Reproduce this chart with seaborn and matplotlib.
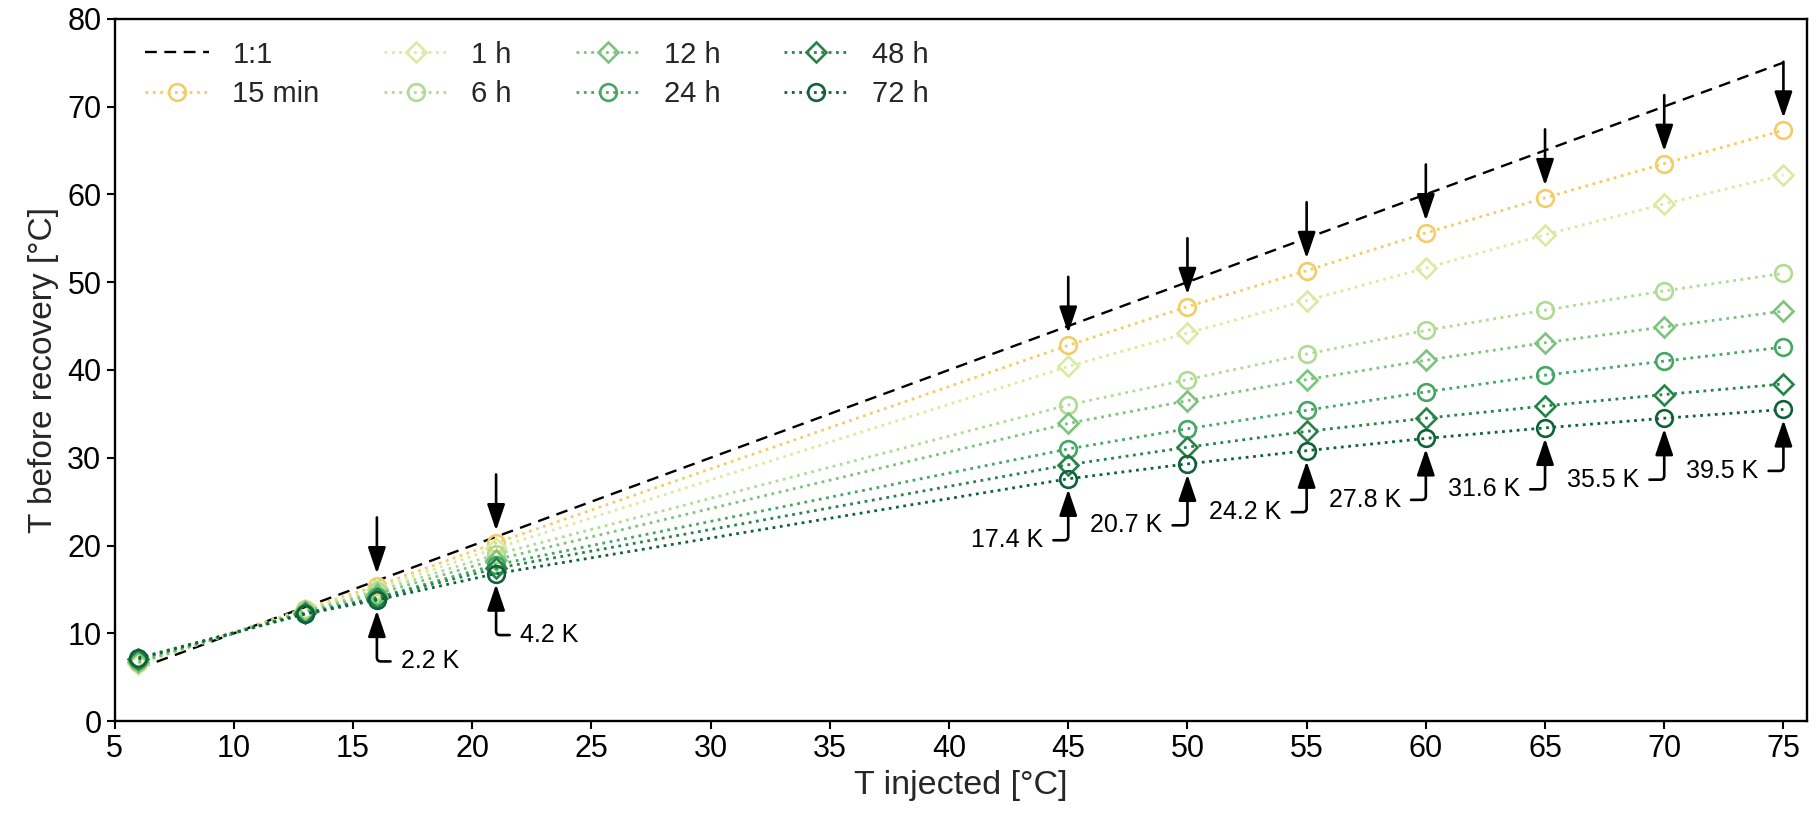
import matplotlib
matplotlib.use("Agg")
import matplotlib.pyplot as plt
import seaborn as sns
import pandas as pd

# ---------------- data ----------------
t_injected = [6, 13, 16, 21, 45, 50, 55, 60, 65, 70, 75]

series_names = ["15 min", "1 h", "6 h", "12 h", "24 h", "48 h", "72 h"]
v_15min = [6.6, 12.8, 15.4, 20.3, 42.8, 47.2, 51.3, 55.6, 59.6, 63.5, 67.3]
v_1h = [6.5, 12.7, 15.1, 19.7, 40.4, 44.2, 47.9, 51.6, 55.4, 58.9, 62.2]
v_6h = [6.7, 12.6, 14.8, 19.0, 36.0, 38.9, 41.8, 44.5, 46.8, 49.0, 51.0]
v_12h = [6.7, 12.5, 14.5, 18.4, 33.9, 36.5, 38.9, 41.1, 43.1, 44.9, 46.7]
v_24h = [7.0, 12.3, 14.1, 17.8, 31.0, 33.3, 35.4, 37.5, 39.4, 41.0, 42.6]
v_48h = [7.1, 12.3, 14.0, 17.4, 29.2, 31.2, 33.0, 34.5, 35.9, 37.2, 38.4]
v_72h = [7.2, 12.2, 13.8, 16.8, 27.6, 29.3, 30.8, 32.2, 33.4, 34.5, 35.5]
series_values = [v_15min, v_1h, v_6h, v_12h, v_24h, v_48h, v_72h]

diff_x = [16, 21, 45, 50, 55, 60, 65, 70, 75]
diff_labels = ["2.2 K", "4.2 K", "17.4 K", "20.7 K", "24.2 K", "27.8 K",
               "31.6 K", "35.5 K", "39.5 K"]

x_ticks = list(range(5, 80, 5))
y_ticks = list(range(0, 90, 10))

# ---------------- style ----------------
colors = ["#f2cc66", "#d8eb9f", "#afdb92", "#7cc47d", "#45a764", "#268447", "#0e6239"]
markers = ["o", "D", "o", "D", "o", "D", "o"]

sns.set_style("ticks")
plt.rcParams["font.family"] = ["Liberation Sans", "DejaVu Sans"]

fig = plt.figure(figsize=(18.2, 8.13), dpi=100)
ax = fig.add_axes([0.063, 0.113, 0.930, 0.864])

# 1:1 line
sns.lineplot(x=t_injected, y=t_injected, ax=ax, color="black", linestyle="--",
             linewidth=1.7, label="1:1", dashes=False, zorder=3)
ax.get_lines()[-1].set_dashes([5, 3.2])

for name, vals, col, mk in zip(series_names, series_values, colors, markers):
    ms = 12 if mk == "o" else 10.5
    sns.lineplot(x=t_injected, y=vals, ax=ax, color=col, linestyle=":",
                 linewidth=2.0, marker=mk, markersize=ms, markerfacecolor="none",
                 markeredgecolor=col, markeredgewidth=1.9, label=name, zorder=4)

arrow_style = "-|>,head_length=1.0,head_width=0.34"

# down arrows above the 15 min values
lookup15 = dict(zip(t_injected, v_15min))
lookup72 = dict(zip(t_injected, v_72h))
for x in diff_x:
    v = lookup15[x]
    ax.annotate("", xy=(x, v + 1.4), xytext=(x, v + 7.8),
                arrowprops=dict(arrowstyle=arrow_style,
                                mutation_scale=16, lw=1.9, color="black",
                                shrinkA=0, shrinkB=0), zorder=6)

# elbow arrows with temperature differences below the 72 h values
for x, lab in zip(diff_x, diff_labels):
    v = lookup72[x]
    if x < 30:
        tx, ha, rel = x + 1.0, "left", (0.0, 0.5)
    else:
        tx, ha, rel = x - 1.05, "right", (1.0, 0.5)
    ax.annotate(lab, xy=(x, v - 1.2), xytext=(tx, v - 7.0),
                ha=ha, va="center", fontsize=18, color="black",
                arrowprops=dict(arrowstyle=arrow_style,
                                mutation_scale=16, lw=1.9, color="black",
                                connectionstyle="angle,angleA=0,angleB=90,rad=4",
                                relpos=rel, shrinkA=5, shrinkB=0), zorder=6)

ax.set_xlim(5, 76)
ax.set_ylim(0, 80)
ax.set_xticks(x_ticks)
ax.set_yticks(y_ticks)
ax.set_xlabel("T injected [°C]", fontsize=24.5, labelpad=4)
ax.set_ylabel("T before recovery [°C]", fontsize=24, labelpad=6)
ax.tick_params(axis="both", labelsize=22, length=6, width=1.5, direction="out",
               color="black", labelcolor="black")
for sp in ax.spines.values():
    sp.set_visible(True)
    sp.set_linewidth(1.7)
    sp.set_color("black")

ax.legend(loc="upper left", ncol=4, frameon=False, fontsize=21,
          handlelength=2.2, handletextpad=0.8, columnspacing=2.2,
          labelspacing=0.4, borderaxespad=0.35, bbox_to_anchor=(0.005, 1.0))

fig.savefig("out.png", dpi=100)
